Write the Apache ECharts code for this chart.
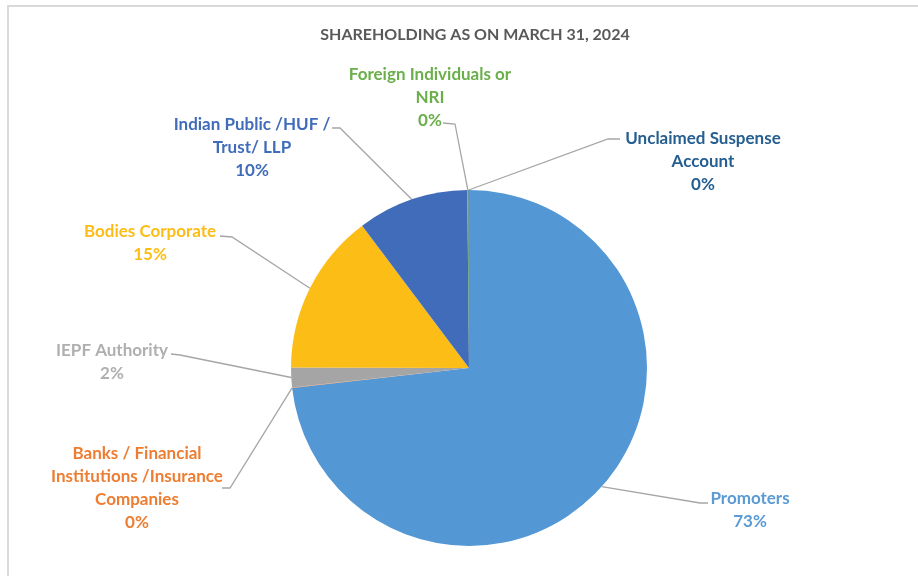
<!DOCTYPE html>
<html><head><meta charset="utf-8">
<script src="https://cdn.jsdelivr.net/npm/echarts@6/dist/echarts.min.js"></script>
<style>html,body{margin:0;padding:0;background:#fff}#c{width:918px;height:576px}</style>
</head><body><div id="c"></div>
<script>
// Data
const categories = [
  'Promoters',
  'Banks / Financial\nInstitutions /Insurance\nCompanies',
  'IEPF Authority',
  'Bodies Corporate',
  'Indian Public /HUF /\nTrust/ LLP',
  'Foreign Individuals or\nNRI',
  'Unclaimed Suspense\nAccount'
];
const shares = [73.2, 0.05, 1.8, 14.7, 10.1, 0.1, 0.05];
const titleText = 'SHAREHOLDING AS ON MARCH 31, 2024';

// Styles
const sliceColors = ['#5397D5', '#ED7D31', '#A5A5A5', '#FDBD17', '#416CBA', '#70AD47', '#255E91'];
const labelColors = ['#5B9BD5', '#ED7D31', '#AFAFAF', '#FDBD17', '#416CBA', '#6AAF4A', '#255E91'];
// Label placement (text block centre, line elbow, line end at the label)
const labelPlace = [
  { x: 750, y: 510, elbow: [700, 503], end: [708, 503] },
  { x: 137, y: 488, elbow: [230, 488], end: [222, 488] },
  { x: 112, y: 362, elbow: [180, 355], end: [171, 354] },
  { x: 150, y: 243, elbow: [232, 237], end: [220, 236] },
  { x: 252, y: 148, elbow: [340, 128], end: [332, 128] },
  { x: 430, y: 98,  elbow: [455, 124], end: [443, 123] },
  { x: 703, y: 162, elbow: [608, 139], end: [620, 139] }
];

const chart = echarts.init(document.getElementById('c'), null, { renderer: 'canvas' });
const FONT = 'Lato, "Open Sans", sans-serif';

chart.setOption({
  backgroundColor: '#ffffff',
  animation: false,
  title: {
    text: titleText,
    left: 470, top: 22, textAlign: 'center',
    textStyle: { fontFamily: FONT, fontSize: 16, fontWeight: 'bold', color: '#595959' }
  },
  graphic: [{
    type: 'rect', silent: true,
    shape: { x: 8, y: 6, width: 940, height: 620 },
    style: { fill: 'none', stroke: '#d9d9d9', lineWidth: 2 }
  }],
  series: [{
    type: 'pie',
    center: [469, 368],
    radius: 178,
    startAngle: 90,
    clockwise: true,
    avoidLabelOverlap: false,
    minShowLabelAngle: 0,
    data: categories.map((n, i) => ({
      name: n, value: shares[i],
      itemStyle: { color: sliceColors[i] },
      label: { color: labelColors[i] }
    })),
    label: {
      show: true, position: 'outside',
      fontFamily: FONT, fontSize: 17, fontWeight: 'bold', lineHeight: 23,
      align: 'center',
      formatter: p => p.name + '\n' + Math.round(p.percent) + '%'
    },
    labelLine: { show: true, length: 10, length2: 10, lineStyle: { color: '#a6a6a6', width: 1.3 } },
    labelLayout: function (params) {
      const pl = labelPlace[params.dataIndex];
      const out = { x: pl.x, y: pl.y, align: 'center', verticalAlign: 'middle' };
      if (params.labelLinePoints && params.labelLinePoints.length) {
        out.labelLinePoints = [params.labelLinePoints[0].slice(), pl.elbow, pl.end];
      }
      return out;
    },
    emphasis: { disabled: true }
  }]
});
</script></body></html>
